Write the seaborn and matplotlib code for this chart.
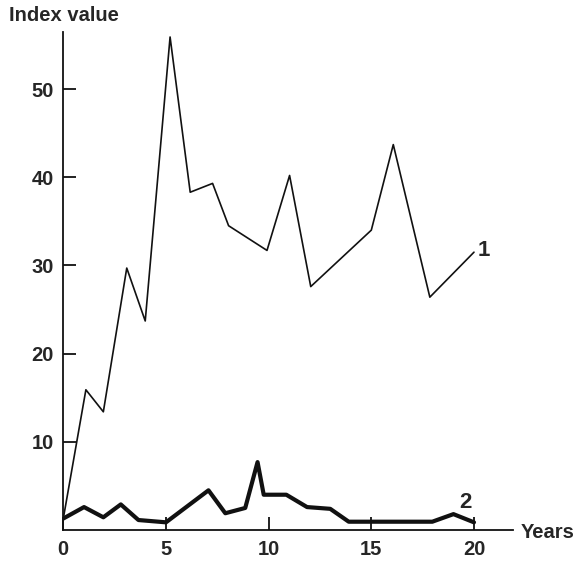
import matplotlib
matplotlib.use("Agg")
import matplotlib.pyplot as plt
import seaborn as sns
import pandas as pd

# Series 1 (thin line)
years1 = [0, 1.1, 1.95, 3.09, 3.99, 5.2, 6.18, 7.27, 8.05, 9.92, 11.02, 12.05, 15.0, 16.07, 17.85, 20.0]
index1 = [1.3, 15.9, 13.4, 29.7, 23.7, 55.9, 38.3, 39.3, 34.5, 31.7, 40.2, 27.6, 34.0, 43.7, 26.4, 31.5]

# Series 2 (thick line)
years2 = [0, 1.01, 1.95, 2.8, 3.66, 5.0, 7.07, 7.89, 8.86, 9.46, 9.76, 10.86, 11.87, 13.0, 13.9, 17.97, 19.0, 20.0]
index2 = [1.3, 2.6, 1.44, 2.9, 1.13, 0.87, 4.5, 1.9, 2.5, 7.7, 4.0, 4.0, 2.6, 2.4, 0.94, 0.94, 1.8, 0.87]

xticks = [0, 5, 10, 15, 20]
yticks = [10, 20, 30, 40, 50]

sns.set_style("ticks")
plt.rcParams['font.family'] = ['Liberation Sans', 'DejaVu Sans']
plt.rcParams['font.weight'] = 'bold'

df1 = pd.DataFrame({"Years": years1, "Index": index1})
df2 = pd.DataFrame({"Years": years2, "Index": index2})

fig = plt.figure(figsize=(5.83, 5.62), dpi=100)
ax = fig.add_axes([63.3 / 583, 32 / 562, (513 - 63.3) / 583, (530 - 31.7) / 562])

sns.lineplot(x="Years", y="Index", data=df1, color="#111111", linewidth=1.2, ax=ax, sort=False)
sns.lineplot(x="Years", y="Index", data=df2, color="#111111", linewidth=3.0, ax=ax, sort=False)

ax.set_xlim(0, 21.9)
ax.set_ylim(0, 56.5)
ax.set_xticks(xticks)
ax.set_yticks(yticks)
ax.set_xlabel("")
ax.set_ylabel("")
for s in ["top", "right"]:
    ax.spines[s].set_visible(False)
for s in ["left", "bottom"]:
    ax.spines[s].set_linewidth(1.3)
    ax.spines[s].set_color("#111111")
ax.tick_params(direction="in", length=9.4, width=1.3, color="#111111", labelsize=14.5, pad=7)
for lab in ax.get_xticklabels() + ax.get_yticklabels():
    lab.set_fontweight("bold")

ax.text(20.2, 31.07, "1", fontsize=16, fontweight="bold")
ax.text(19.3, 2.46, "2", fontsize=16, fontweight="bold")

fig.text(9 / 583, 1 - 21 / 562, "Index value", fontsize=14.5, fontweight="bold", va="baseline")
fig.text(521 / 583, 1 - 538 / 562, "Years", fontsize=14.5, fontweight="bold", va="baseline")

fig.savefig("out.png", dpi=100)
plt.close(fig)
